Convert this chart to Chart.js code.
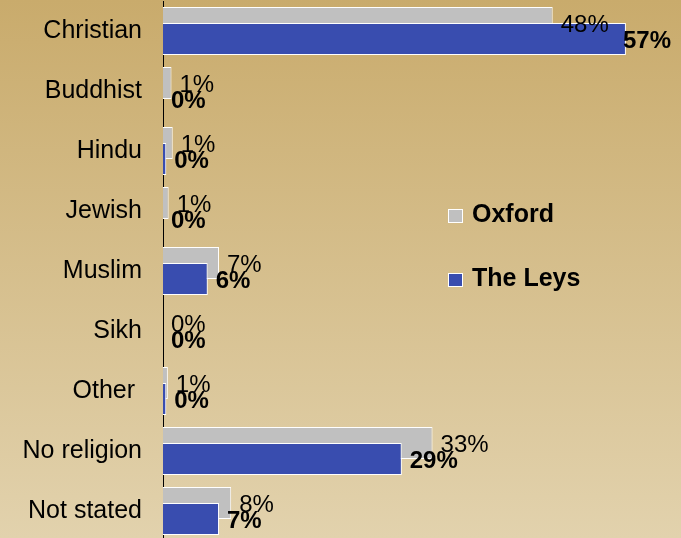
<!DOCTYPE html>
<html>
<head>
<meta charset="utf-8">
<script src="https://cdn.jsdelivr.net/npm/chart.js@4"></script>
<style>
  html, body {
    margin: 0;
    padding: 0;
    width: 681px;
    height: 538px;
    overflow: hidden;
    background: linear-gradient(to bottom, #c9ab6c 0%, #e2d2ad 100%);
  }
  canvas { display: block; }
</style>
</head>
<body>
<canvas id="religionChart" width="681" height="541"></canvas>
<script>
// values (percent)
const categories = ['Christian', 'Buddhist', 'Hindu', 'Jewish', 'Muslim', 'Sikh', 'Other ', 'No religion', 'Not stated'];
const oxfordValues = [48, 1.05, 1.2, 0.7, 6.9, 0, 0.6, 33.2, 8.4];
const leysValues = [57, 0, 0.4, 0, 5.5, 0, 0.4, 29.4, 6.9];
const seriesNames = ['Oxford', 'The Leys'];

const FONT = '"Liberation Sans", Arial, sans-serif';

// percent labels next to each bar; The Leys is redrawn first so it sits over Oxford
const valueLabels = {
  id: 'valueLabels',
  afterDatasetsDraw(chart) {
    chart.getDatasetMeta(1).controller.draw();
    const ctx = chart.ctx;
    const limit = chart.chartArea.right - 10;
    ctx.save();
    ctx.fillStyle = '#000';
    ctx.textAlign = 'left';
    ctx.textBaseline = 'middle';
    chart.data.datasets.forEach((ds, i) => {
      ctx.font = (i === 1 ? 'bold ' : '') + '24px ' + FONT;
      chart.getDatasetMeta(i).data.forEach((bar, j) => {
        const text = Math.round(ds.data[j]) + '%';
        const w = ctx.measureText(text).width;
        ctx.fillText(text, Math.min(bar.x + 8, limit - w), bar.y + 2);
      });
    });
    ctx.restore();
  }
};

// legend drawn inside the plot, to the right
const sideLegend = {
  id: 'sideLegend',
  afterDraw(chart) {
    const ctx = chart.ctx;
    ctx.save();
    ctx.font = 'bold 25px ' + FONT;
    ctx.textBaseline = 'middle';
    chart.data.datasets.forEach((ds, i) => {
      const y = 216 + i * 64;
      ctx.fillStyle = ds.backgroundColor;
      ctx.fillRect(448, y - 7, 15, 14);
      ctx.strokeStyle = '#ffffff';
      ctx.lineWidth = 1;
      ctx.strokeRect(448.5, y - 6.5, 14, 13);
      ctx.fillStyle = '#000';
      ctx.fillText(ds.label, 472, y - 1);
    });
    ctx.restore();
  }
};

new Chart(document.getElementById('religionChart'), {
  type: 'bar',
  data: {
    labels: categories,
    datasets: [
      {
        label: seriesNames[0],
        data: oxfordValues,
        backgroundColor: '#c0c0c0',
        borderColor: '#ffffff',
        borderWidth: 1,
        categoryPercentage: 32 / 60,
        barPercentage: 2,
      },
      {
        label: seriesNames[1],
        data: leysValues,
        backgroundColor: '#394daf',
        borderColor: '#ffffff',
        borderWidth: 1,
        categoryPercentage: 32 / 60,
        barPercentage: 2,
      },
    ],
  },
  options: {
    indexAxis: 'y',
    responsive: false,
    animation: false,
    layout: { autoPadding: false, padding: { top: 1, right: 0, bottom: 0, left: 0 } },
    plugins: {
      legend: { display: false },
      tooltip: { enabled: false },
    },
    scales: {
      x: { display: false, min: 0, max: 63.8 },
      y: {
        grid: { display: false, drawTicks: false },
        border: { display: true, color: '#000', width: 1 },
        ticks: {
          color: '#000',
          padding: 21,
          font: { family: FONT, size: 25 },
        },
        afterFit(scale) {
          scale.width = 163;
          scale.paddingTop = 0;
          scale.paddingBottom = 0;
        },
      },
    },
  },
  plugins: [valueLabels, sideLegend],
});
</script>
</body>
</html>
